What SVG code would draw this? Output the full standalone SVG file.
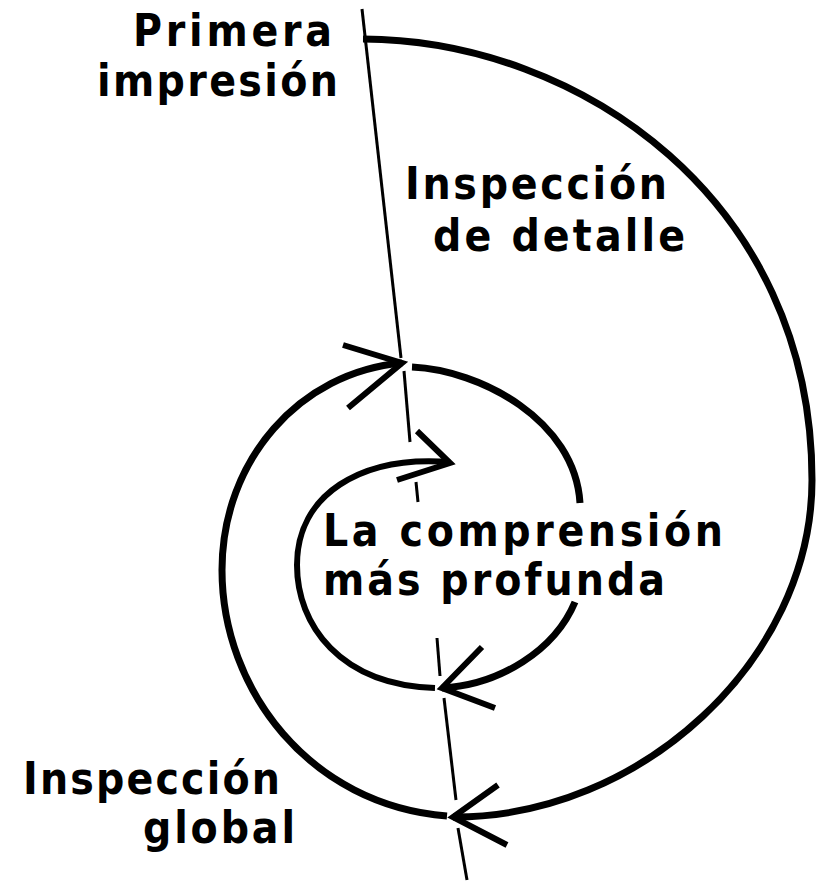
<svg xmlns="http://www.w3.org/2000/svg" width="816" height="883" viewBox="0 0 816 883">
<style>
.t{font-family:"DejaVu Sans Condensed","DejaVu Sans","Liberation Sans",sans-serif;font-weight:bold;font-size:44px;fill:#000}
.c{fill:none;stroke:#000;stroke-width:7}
.ci{fill:none;stroke:#000;stroke-width:6}
.b{fill:none;stroke:#000;stroke-width:6}
.ax{fill:none;stroke:#000;stroke-width:3}
</style>
<rect width="816" height="883" fill="#fff"/>
<g id="axis" class="ax">
<line x1="362" y1="9" x2="401" y2="358"/>
<line x1="404" y1="371" x2="410" y2="442"/>
<line x1="416" y1="482" x2="418" y2="502"/>
<line x1="437" y1="638" x2="440" y2="676"/>
<line x1="444" y1="698" x2="456" y2="800"/>
<line x1="458" y1="828" x2="467" y2="880"/>
</g>
<g id="connectors">
<path class="c" d="M 363 39 C 580 40, 812 200, 812 480 C 812 660, 640 818, 453 817"/>
<path class="b" d="M 498 785 L 453 817 L 507 845"/>
<path class="c" d="M 447 816 C 310 805, 222 690, 222 570 C 222 460, 300 372, 402 363"/>
<path class="b" d="M 343 345 L 402 363 L 348 408"/>
<path class="c" d="M 412 367 C 480 370, 575 420, 580 503"/>
<path class="c" d="M 575 602 C 555 650, 500 685, 442 688"/>
<path class="b" d="M 482 647 L 442 688 L 495 708"/>
<path class="ci" d="M 435 688 C 340 685, 297 625, 297 565 C 297 495, 360 455, 450 462"/>
<path class="b" d="M 417 431 L 450 463 L 397 480"/>
</g>
<g id="primera">
<text class="t" x="133" y="46" textLength="199" lengthAdjust="spacing">Primera</text>
<text class="t" x="97" y="96" textLength="241" lengthAdjust="spacing">impresión</text>
</g>
<g id="detalle">
<text class="t" x="405" y="199" textLength="262" lengthAdjust="spacing">Inspección</text>
<text class="t" x="433" y="251" textLength="252" lengthAdjust="spacing">de detalle</text>
</g>
<g id="profunda">
<text class="t" x="323" y="546" textLength="400" lengthAdjust="spacing">La comprensión</text>
<text class="t" x="323" y="595" textLength="342" lengthAdjust="spacing">más profunda</text>
</g>
<g id="global">
<text class="t" x="23" y="794" textLength="257" lengthAdjust="spacing">Inspección</text>
<text class="t" x="143" y="843" textLength="152" lengthAdjust="spacing">global</text>
</g>
</svg>
